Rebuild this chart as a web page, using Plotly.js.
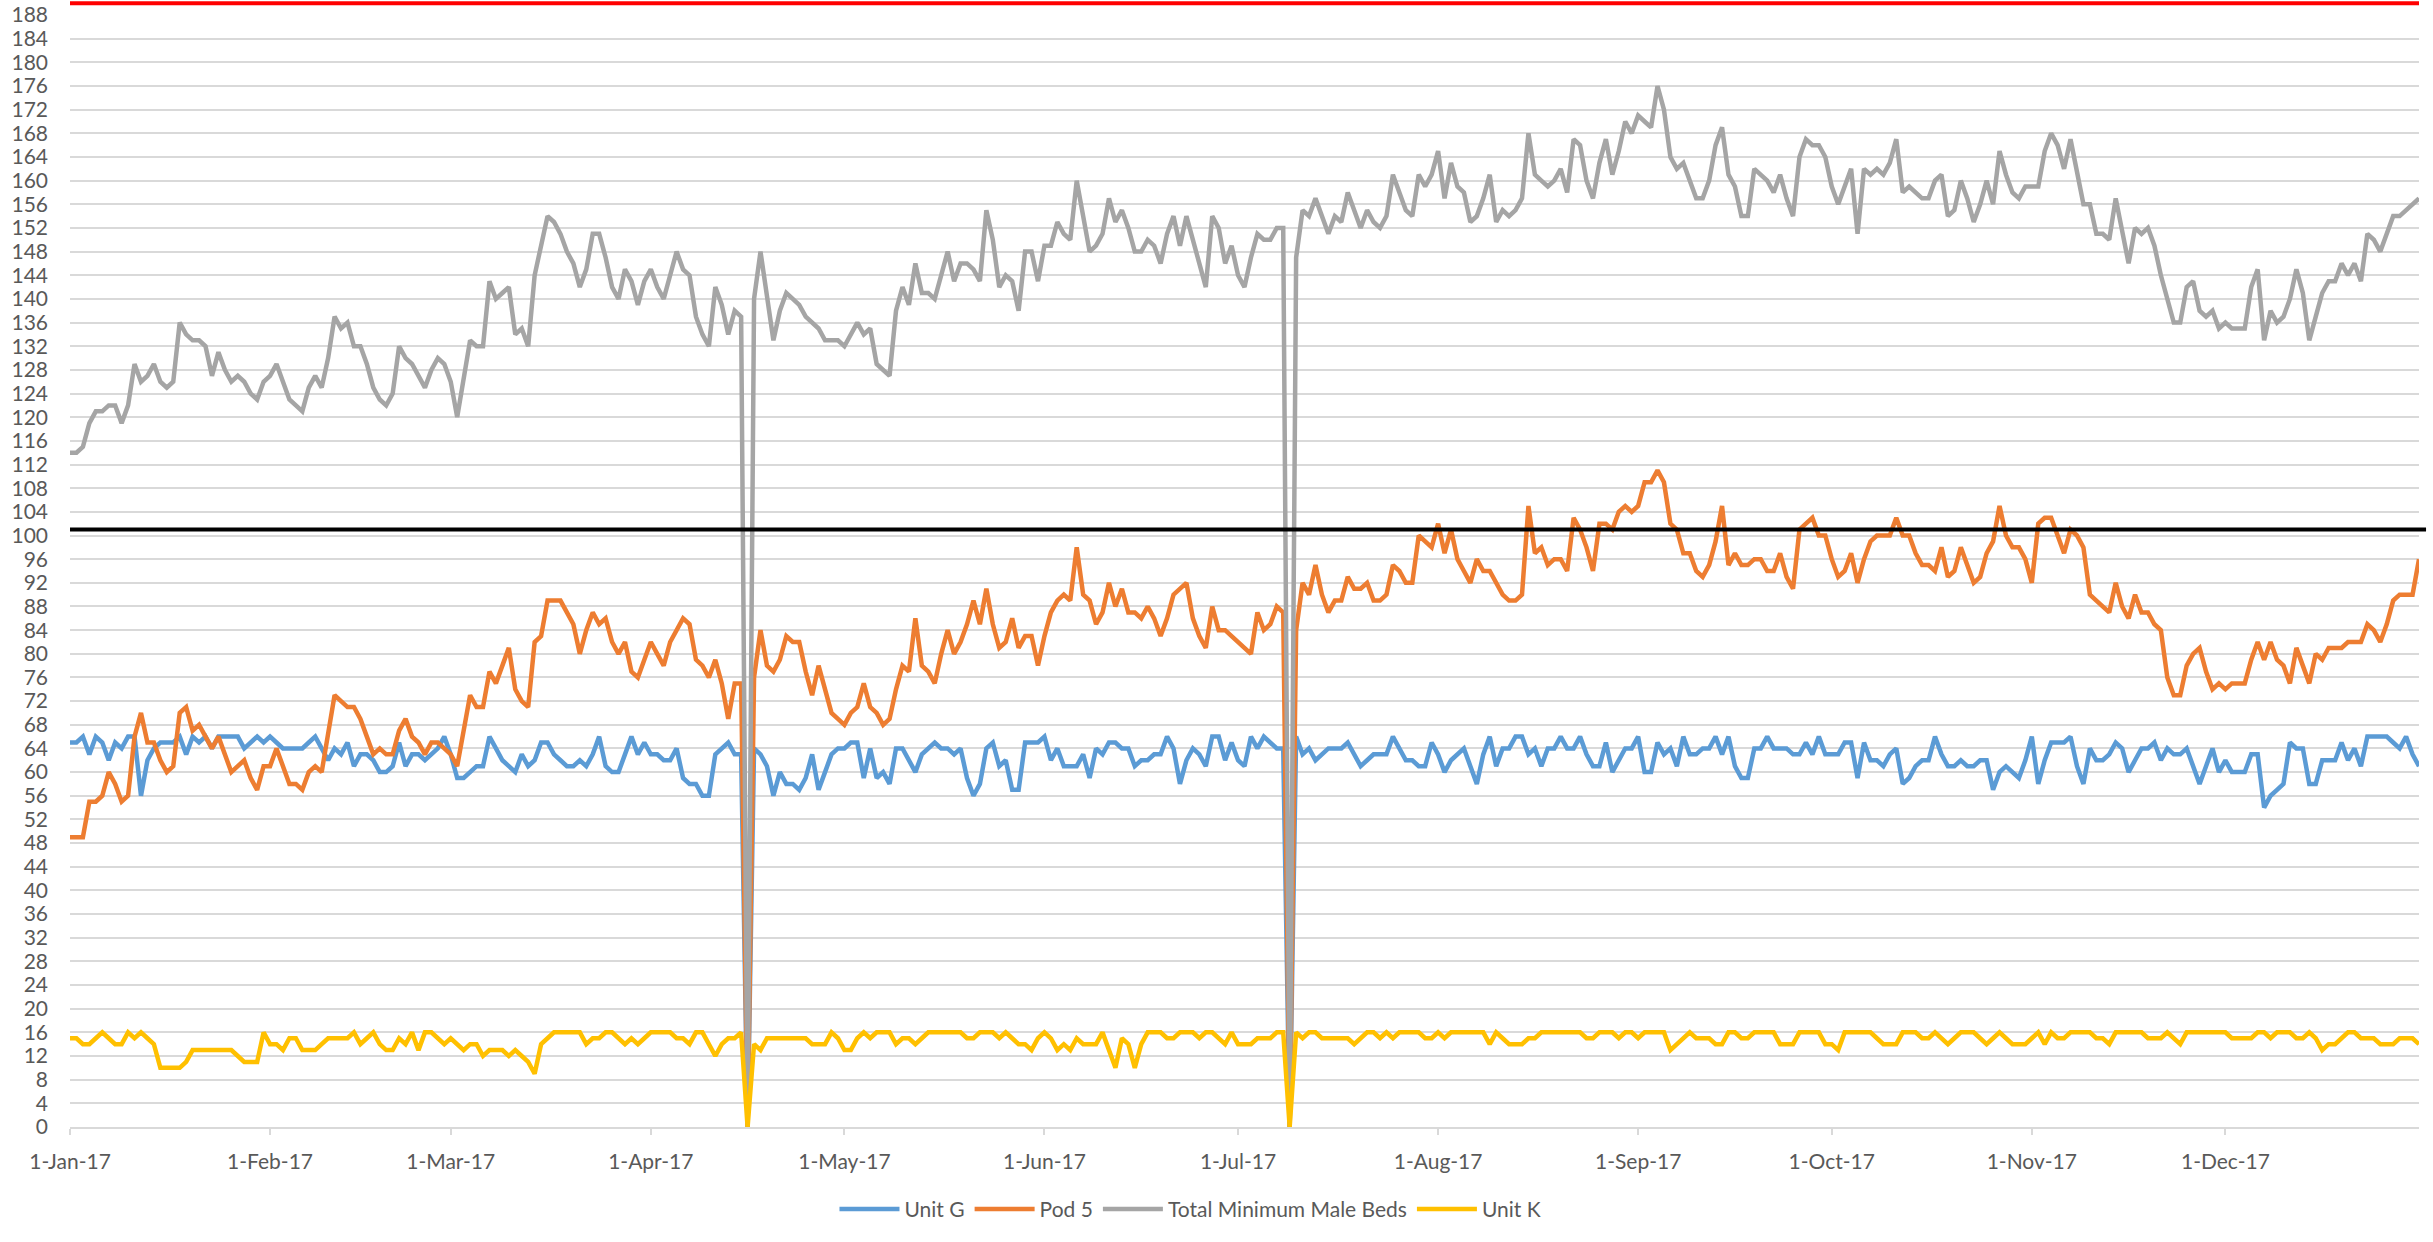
<!DOCTYPE html>
<html>
<head>
<meta charset="utf-8">
<script src="https://cdn.plot.ly/plotly-3.0.1.min.js"></script>
<style>
  html, body { margin: 0; padding: 0; background: #ffffff; }
  #chart { width: 2433px; height: 1242px; }
</style>
</head>
<body>
<div id="chart"></div>
<script>
// ---- Data (daily values, 1-Jan-2017 .. 31-Dec-2017) ----
const startDate = '2017-01-01';
const dayCount = 365;

const seriesNames = ['Unit G', 'Pod 5', 'Total Minimum Male Beds', 'Unit K'];

const unitG = [
 65,65,66,63,66,65,62,65,64,66, 66,56,62,64,65,65,65,66,63,66, 65,66,64,66,66,66,66,64,65,66, 65,66,65,64,64,64,64,65,66,64, 62,64,63,65,61,63,63,62,60,60, 61,65,61,63,63,62,63,64,
 66,63,59,59,60,61,61,66,64,62, 61,60,63,61,62,65,65,63,62,61, 61,62,61,63,66,61,60,60,63,66, 63,65,63,63,62,62,64,59,58,58, 56,56,63,64,65,63,63,0,64,63, 61,56,60,58,58,57,59,63,57,60,
 63,64,64,65,65,59,64,59,60,58, 64,64,62,60,63,64,65,64,64,63, 64,59,56,58,64,65,61,62,57,57, 65,65,65,66,62,64,61,61,61,63, 59,64,63,65,65,64,64,61,62,62, 63,63,66,64,58,62,64,63,61,66,
 66,62,65,62,61,66,64,66,65,64, 64,0,66,63,64,62,63,64,64,64, 65,63,61,62,63,63,63,66,64,62, 62,61,61,65,63,60,62,63,64,61, 58,63,66,61,64,64,66,66,63,64, 61,64,64,66,64,64,66,63,61,61, 65,
 60,62,64,64,66,60,60,65,63,64, 61,66,63,63,64,64,66,63,66,61, 59,59,64,64,66,64,64,64,63,63, 65,63,66,63,63,63,65,65,59,65, 62,62,61,63,64,58,59,61,62,62, 66,63,61,61,62,61,61,62,62,57,
 60,61,60,59,62,66,58,62,65,65, 65,66,61,58,64,62,62,63,65,64, 60,62,64,64,65,62,64,63,63,64, 61,58,61,64,60,62,60,60,60,63, 63,54,56,57,58,65,64,64,58,58, 62,62,62,65,62,64,61,66,66,66, 66,65,64,66,63,61
];

const pod5 = [
 49,49,49,55,55,56,60,58,55,56, 66,70,65,65,62,60,61,70,71,67, 68,66,64,66,63,60,61,62,59,57, 61,61,64,61,58,58,57,60,61,60, 66,73,72,71,71,69,66,63,64,63, 63,67,69,66,65,63,65,65,
 64,63,61,67,73,71,71,77,75,78, 81,74,72,71,82,83,89,89,89,87, 85,80,84,87,85,86,82,80,82,77, 76,79,82,80,78,82,84,86,85,79, 78,76,79,75,69,75,75,0,76,84, 78,77,79,83,82,82,77,73,78,74,
 70,69,68,70,71,75,71,70,68,69, 74,78,77,86,78,77,75,80,84,80, 82,85,89,85,91,85,81,82,86,81, 83,83,78,83,87,89,90,89,98,90, 89,85,87,92,88,91,87,87,86,88, 86,83,86,90,91,92,86,83,81,88,
 84,84,83,82,81,80,87,84,85,88, 87,0,84,92,90,95,90,87,89,89, 93,91,91,92,89,89,90,95,94,92, 92,100,99,98,102,97,101,96,94,92, 96,94,94,92,90,89,89,90,105,97, 98,95,96,96,94,103,101,98,94,102, 102,
 101,104,105,104,105,109,109,111,109,102, 101,97,97,94,93,95,99,105,95,97, 95,95,96,96,94,94,97,93,91,101, 102,103,100,100,96,93,94,97,92,96, 99,100,100,100,103,100,100,97,95,95, 94,98,93,94,98,95,92,93,97,99,
 105,100,98,98,96,92,102,103,103,100, 97,101,100,98,90,89,88,87,92,88, 86,90,87,87,85,84,76,73,73,78, 80,81,77,74,75,74,75,75,75,79, 82,79,82,79,78,75,81,78,75,80, 79,81,81,81,82,82,82,85,84,82, 85,89,90,90,90,96
];

const totalMinMaleBeds = [
 114,114,115,119,121,121,122,122,119,122, 129,126,127,129,126,125,126,136,134,133, 133,132,127,131,128,126,127,126,124,123, 126,127,129,126,123,122,121,125,127,125, 130,137,135,136,132,132,129,125,123,122, 124,132,130,129,127,125,128,130,
 129,126,120,126,133,132,132,143,140,141, 142,134,135,132,144,149,154,153,151,148, 146,142,145,151,151,147,142,140,145,143, 139,143,145,142,140,144,148,145,144,137, 134,132,142,139,134,138,137,0,140,148, 140,133,138,141,140,139,137,136,135,133,
 133,133,132,134,136,134,135,129,128,127, 138,142,139,146,141,141,140,144,148,143, 146,146,145,143,155,150,142,144,143,138, 148,148,143,149,149,153,151,150,160,154, 148,149,151,157,153,155,152,148,148,150, 149,146,151,154,149,154,150,146,142,154,
 152,146,149,144,142,147,151,150,150,152, 152,0,147,155,154,157,154,151,154,153, 158,155,152,155,153,152,154,161,158,155, 154,161,159,161,165,157,163,159,158,153, 154,157,161,153,155,154,155,157,168,161, 160,159,160,162,158,167,166,160,157,163, 167,
 161,165,170,168,171,170,169,176,172,164, 162,163,160,157,157,160,166,169,161,159, 154,154,162,161,160,158,161,157,154,164, 167,166,166,164,159,156,159,162,151,162, 161,162,161,163,167,158,159,158,157,157, 160,161,154,155,160,157,153,156,160,
 156,165,161,158,157,159,159,159,165,168, 166,162,167,161,156,156,151,151,150,157, 151,146,152,151,152,149,144,140,136,136, 142,143,138,137,138,135,136,135,135,135, 142,145,133,138,136,137,140,145,141,133, 137,141,143,143,146,144,146,143,151,150, 148,151,154,154,155,156,157
];

const unitK = [
 15,15,14,14,15,16,15,14,14,16, 15,16,15,14,10,10,10,10,11,13, 13,13,13,13,13,13,12,11,11,11, 16,14,14,13,15,15,13,13,13,14, 15,15,15,15,16,14,15,16,14,13, 13,15,14,16,13,16,16,15,
 14,15,14,13,14,14,12,13,13,13, 12,13,12,11,9,14,15,16,16,16, 16,16,14,15,15,16,16,15,14,15, 14,15,16,16,16,16,15,15,14,16, 16,14,12,14,15,15,16,0,14,13, 15,15,15,15,15,15,15,14,14,14,
 16,15,13,13,15,16,15,16,16,16, 14,15,15,14,15,16,16,16,16,16, 16,15,15,16,16,16,15,16,15,14, 14,13,15,16,15,13,14,13,15,14, 14,14,16,13,10,15,14,10,14,16, 16,16,15,15,16,16,16,15,16,16,
 15,14,16,14,14,14,15,15,15,16, 16,0,16,15,16,16,15,15,15,15, 15,14,15,16,16,15,16,15,16,16, 16,16,15,15,16,15,16,16,16,16, 16,16,14,16,15,14,14,14,15,15, 16,16,16,16,16,16,16,15,15,16, 16,
 16,15,16,16,15,16,16,16,16,13, 14,15,16,15,15,15,14,14,16,16, 15,15,16,16,16,16,14,14,14,16, 16,16,16,14,14,13,16,16,16,16, 16,15,14,14,14,16,16,16,15,15, 16,15,14,15,16,16,16,15,14,15,
 16,15,14,14,14,15,16,14,16,15, 15,16,16,16,16,15,15,14,16,16, 16,16,16,15,15,15,16,15,14,16, 16,16,16,16,16,16,15,15,15,15, 16,16,15,16,16,16,15,15,16,15, 13,14,14,15,16,16,15,15,15,14, 14,14,15,15,15,14
];

// Reference (capacity) lines, in bed counts
const totalCapacity = 190;
const pod5Capacity = 101;

// Axis settings
const yMax = 188;
const yStep = 4;

// ---- Build the date categories ----
function buildDates(start, n) {
  const out = [];
  const d0 = new Date(start + 'T00:00:00Z');
  for (let i = 0; i < n; i++) {
    const d = new Date(d0.getTime() + i * 86400000);
    out.push(d.toISOString().slice(0, 10));
  }
  return out;
}
const dates = buildDates(startDate, dayCount);

const colors = ['#5B9BD5', '#ED7D31', '#A5A5A5', '#FFC000'];
const values = [unitG, pod5, totalMinMaleBeds, unitK];

const traces = values.map((v, i) => ({
  type: 'scatter',
  mode: 'lines',
  name: seriesNames[i],
  x: dates,
  y: v,
  line: { color: colors[i], width: 4.5, shape: 'linear' },
  hoverinfo: 'x+y+name'
}));

const fontFamily = 'Lato, "Open Sans", "Liberation Sans", sans-serif';
const textSize = 21;

const layout = {
  width: 2433,
  height: 1242,
  margin: { l: 70, r: 14, t: 15, b: 96, pad: 0 },
  paper_bgcolor: '#ffffff',
  plot_bgcolor: '#ffffff',
  font: { family: fontFamily, size: textSize, color: '#595959' },
  showlegend: true,
  legend: {
    orientation: 'h',
    x: 0.477,
    xanchor: 'center',
    y: -0.074,
    yanchor: 'middle',
    font: { family: fontFamily, size: textSize, color: '#595959' },
    itemwidth: 60,
    traceorder: 'normal'
  },
  xaxis: {
    type: 'date',
    range: [dates[0], dates[dates.length - 1]],
    tick0: startDate,
    dtick: 'M1',
    tickformat: '%-d-%b-%y',
    ticks: 'outside',
    ticklen: 6,
    tickwidth: 2,
    tickcolor: '#d9d9d9',
    showline: true,
    linecolor: '#d9d9d9',
    linewidth: 2,
    showgrid: false,
    zeroline: false,
    ticklabelstandoff: 9,
    tickfont: { family: fontFamily, size: textSize, color: '#595959' }
  },
  yaxis: {
    range: [0, yMax],
    tick0: 0,
    dtick: yStep,
    showgrid: true,
    gridcolor: '#d9d9d9',
    gridwidth: 2,
    zeroline: false,
    showline: false,
    ticks: '',
    ticklabelstandoff: 21,
    tickfont: { family: fontFamily, size: textSize, color: '#595959' }
  },
  shapes: [
    {
      type: 'line', xref: 'paper', yref: 'paper',
      x0: 0, x1: 1,
      y0: totalCapacity / yMax, y1: totalCapacity / yMax,
      line: { color: '#FF0000', width: 4 }
    },
    {
      type: 'line', xref: 'paper', yref: 'y',
      x0: 0, x1: 1.003,
      y0: pod5Capacity, y1: pod5Capacity,
      line: { color: '#000000', width: 4 }
    }
  ]
};

Plotly.newPlot('chart', traces, layout, { displayModeBar: false, staticPlot: true });
</script>
</body>
</html>
